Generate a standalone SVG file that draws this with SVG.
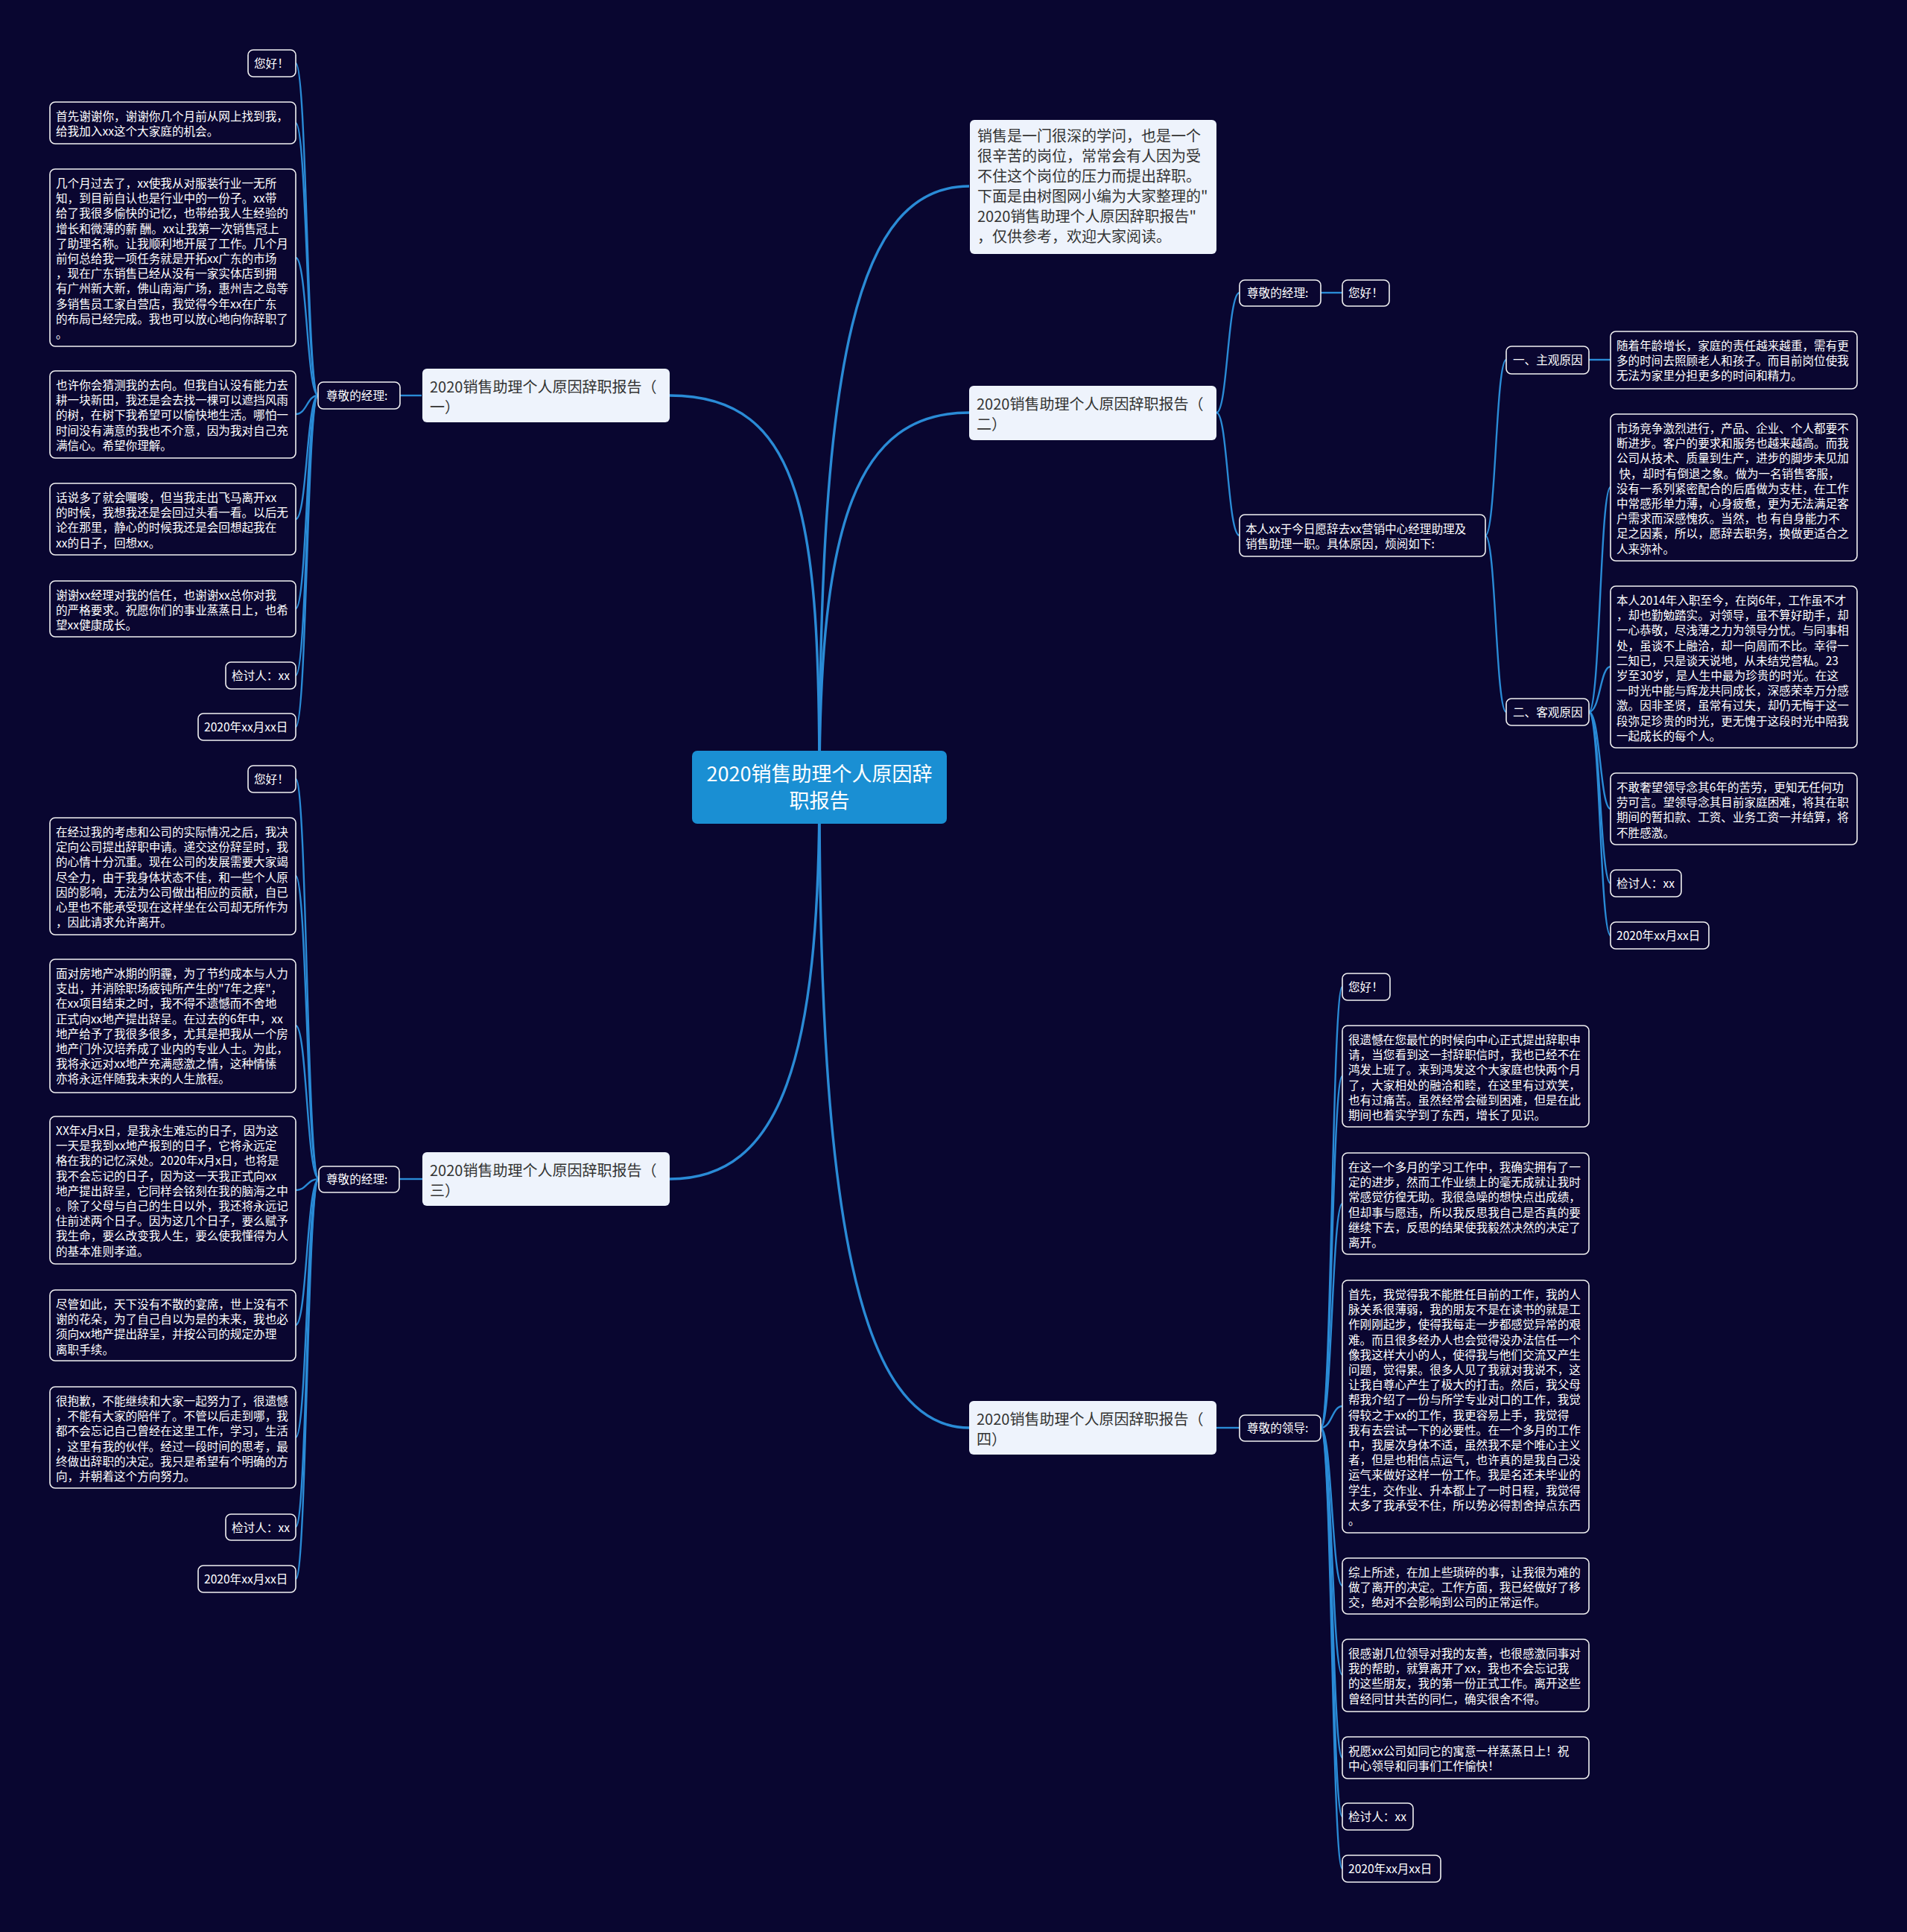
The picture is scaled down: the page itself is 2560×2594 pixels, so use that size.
<svg xmlns="http://www.w3.org/2000/svg" width="2560" height="2594" viewBox="0 0 2560 2594">
<style>
text{font-family:"Noto Sans CJK SC","Noto Sans",sans-serif;}
.leaf rect{fill:#0a0630;stroke:#f2f2f2;stroke-width:1.6;}
.leaf text{fill:#ffffff;font-size:15.6px;}
.branch rect{fill:#eef3fc;}
.branch text{fill:#333333;font-size:20px;}
.center rect{fill:#1a8fd3;}
.center text{fill:#ffffff;font-size:27px;text-anchor:middle;}
.conn path{fill:none;stroke:#2a8bd6;stroke-width:2.4;}
.conn path.main{stroke-width:3.4;}
</style>
<rect width="2560" height="2594" fill="#090630"/>
<g id="connectors" class="conn">
<path class="main" d="M1100,1057 C1100,700 1080,531 899,531"/>
<path class="main" d="M1100,1057 C1100,480 1150,250 1301,250"/>
<path class="main" d="M1100,1057 C1100,700 1150,554 1301,554"/>
<path class="main" d="M1100,1057 C1100,1420 1050,1583 899,1583"/>
<path class="main" d="M1100,1057 C1100,1620 1150,1917 1301,1917"/>
<path d="M566,531 L537,531"/>
<path d="M567,1583 L536,1583"/>
<path d="M1633,554 C1648,554 1648,393 1664,393"/>
<path d="M1633,554 C1648,554 1648,719 1664,719"/>
<path d="M1633,1917 L1664,1917"/>
<path d="M1773,393 L1802,393"/>
<path d="M1994,719 C2008,719 2008,483 2022,483"/>
<path d="M1994,719 C2008,719 2008,956 2022,956"/>
<path d="M2133,483 L2162,483"/>
<path d="M2133,956 C2148,956 2148,654 2162,654"/>
<path d="M2133,956 C2148,956 2148,895 2162,895"/>
<path d="M2133,956 C2148,956 2148,1086 2162,1086"/>
<path d="M2133,956 C2148,956 2148,1186 2162,1186"/>
<path d="M2133,956 C2148,956 2148,1256 2162,1256"/>
<path d="M427,531 C412,531 412,85 397,85"/>
<path d="M427,531 C412,531 412,165 397,165"/>
<path d="M427,531 C412,531 412,346 397,346"/>
<path d="M427,531 C412,531 412,556 397,556"/>
<path d="M427,531 C412,531 412,697 397,697"/>
<path d="M427,531 C412,531 412,817 397,817"/>
<path d="M427,531 C412,531 412,907 397,907"/>
<path d="M427,531 C412,531 412,976 397,976"/>
<path d="M428,1583 C412,1583 412,1046 397,1046"/>
<path d="M428,1583 C412,1583 412,1176 397,1176"/>
<path d="M428,1583 C412,1583 412,1377 397,1377"/>
<path d="M428,1583 C412,1583 412,1598 397,1598"/>
<path d="M428,1583 C412,1583 412,1779 397,1779"/>
<path d="M428,1583 C412,1583 412,1930 397,1930"/>
<path d="M428,1583 C412,1583 412,2050 397,2050"/>
<path d="M428,1583 C412,1583 412,2120 397,2120"/>
<path d="M1773,1917 C1788,1917 1788,1325 1802,1325"/>
<path d="M1773,1917 C1788,1917 1788,1445 1802,1445"/>
<path d="M1773,1917 C1788,1917 1788,1616 1802,1616"/>
<path d="M1773,1917 C1788,1917 1788,1888 1802,1888"/>
<path d="M1773,1917 C1788,1917 1788,2129 1802,2129"/>
<path d="M1773,1917 C1788,1917 1788,2249 1802,2249"/>
<path d="M1773,1917 C1788,1917 1788,2360 1802,2360"/>
<path d="M1773,1917 C1788,1917 1788,2439 1802,2439"/>
<path d="M1773,1917 C1788,1917 1788,2509 1802,2509"/>
</g>

<g id="center" class="center">
<rect x="929" y="1008" width="342" height="98" rx="7"/>
<text x="1100" y="1049">2020销售助理个人原因辞<tspan x="1100" dy="36">职报告</tspan></text>
</g>

<g id="intro" class="branch">
<rect x="1302" y="161" width="331" height="180" rx="6"/>
<text x="1312" y="190">销售是一门很深的学问，也是一个<tspan x="1312" dy="27">很辛苦的岗位，常常会有人因为受</tspan><tspan x="1312" dy="27">不住这个岗位的压力而提出辞职。</tspan><tspan x="1312" dy="27">下面是由树图网小编为大家整理的"</tspan><tspan x="1312" dy="27">2020销售助理个人原因辞职报告"</tspan><tspan x="1312" dy="27">，仅供参考，欢迎大家阅读。</tspan></text>
</g>

<g id="branch1" class="branch">
<rect x="567" y="495" width="332" height="72" rx="6"/>
<text x="577" y="527">2020销售助理个人原因辞职报告（<tspan x="577" dy="27">一）</tspan></text>
</g>
<g id="branch2" class="branch">
<rect x="1301" y="518" width="332" height="73" rx="6"/>
<text x="1311" y="550">2020销售助理个人原因辞职报告（<tspan x="1311" dy="27">二）</tspan></text>
</g>
<g id="branch3" class="branch">
<rect x="567" y="1547" width="332" height="72" rx="6"/>
<text x="577" y="1579">2020销售助理个人原因辞职报告（<tspan x="577" dy="27">三）</tspan></text>
</g>
<g id="branch4" class="branch">
<rect x="1301" y="1881" width="332" height="72" rx="6"/>
<text x="1311" y="1913">2020销售助理个人原因辞职报告（<tspan x="1311" dy="27">四）</tspan></text>
</g>

<!-- Branch 1 -->
<g id="b1-label" class="leaf"><rect x="427" y="513" width="110" height="36" rx="7"/><text x="438" y="537">尊敬的经理:</text></g>
<g id="b1-1" class="leaf"><rect x="333" y="67" width="64" height="36" rx="7"/><text x="341" y="91">您好！</text></g>
<g id="b1-2" class="leaf"><rect x="67" y="137" width="330" height="56" rx="7"/><text x="75" y="162">首先谢谢你，谢谢你几个月前从网上找到我，<tspan x="75" dy="20.2">给我加入xx这个大家庭的机会。</tspan></text></g>
<g id="b1-3" class="leaf"><rect x="67" y="227" width="330" height="238" rx="7"/><text x="75" y="252">几个月过去了，xx使我从对服装行业一无所<tspan x="75" dy="20.2">知，到目前自认也是行业中的一份子。xx带</tspan><tspan x="75" dy="20.2">给了我很多愉快的记忆，也带给我人生经验的</tspan><tspan x="75" dy="20.2">增长和微薄的薪 酬。xx让我第一次销售冠上</tspan><tspan x="75" dy="20.2">了助理名称。让我顺利地开展了工作。几个月</tspan><tspan x="75" dy="20.2">前何总给我一项任务就是开拓xx广东的市场</tspan><tspan x="75" dy="20.2">，现在广东销售已经从没有一家实体店到拥</tspan><tspan x="75" dy="20.2">有广州新大新，佛山南海广场，惠州吉之岛等</tspan><tspan x="75" dy="20.2">多销售员工家自营店，我觉得今年xx在广东</tspan><tspan x="75" dy="20.2">的布局已经完成。我也可以放心地向你辞职了</tspan><tspan x="75" dy="20.2">。</tspan></text></g>
<g id="b1-4" class="leaf"><rect x="67" y="498" width="330" height="117" rx="7"/><text x="75" y="523">也许你会猜测我的去向。但我自认没有能力去<tspan x="75" dy="20.2">耕一块新田，我还是会去找一棵可以遮挡风雨</tspan><tspan x="75" dy="20.2">的树，在树下我希望可以愉快地生活。哪怕一</tspan><tspan x="75" dy="20.2">时间没有满意的我也不介意，因为我对自己充</tspan><tspan x="75" dy="20.2">满信心。希望你理解。</tspan></text></g>
<g id="b1-5" class="leaf"><rect x="67" y="649" width="330" height="96" rx="7"/><text x="75" y="674">话说多了就会囉唆，但当我走出飞马离开xx<tspan x="75" dy="20.2">的时候，我想我还是会回过头看一看。以后无</tspan><tspan x="75" dy="20.2">论在那里，静心的时候我还是会回想起我在</tspan><tspan x="75" dy="20.2">xx的日子，回想xx。</tspan></text></g>
<g id="b1-6" class="leaf"><rect x="67" y="780" width="330" height="75" rx="7"/><text x="75" y="805">谢谢xx经理对我的信任，也谢谢xx总你对我<tspan x="75" dy="20.2">的严格要求。祝愿你们的事业蒸蒸日上，也希</tspan><tspan x="75" dy="20.2">望xx健康成长。</tspan></text></g>
<g id="b1-7" class="leaf"><rect x="303" y="889" width="94" height="36" rx="7"/><text x="311" y="913">检讨人：xx</text></g>
<g id="b1-8" class="leaf"><rect x="266" y="958" width="131" height="36" rx="7"/><text x="274" y="982">2020年xx月xx日</text></g>

<!-- Branch 3 -->
<g id="b3-label" class="leaf"><rect x="428" y="1566" width="108" height="35" rx="7"/><text x="438" y="1589">尊敬的经理:</text></g>
<g id="b3-1" class="leaf"><rect x="333" y="1028" width="64" height="36" rx="7"/><text x="341" y="1052">您好！</text></g>
<g id="b3-2" class="leaf"><rect x="67" y="1098" width="330" height="157" rx="7"/><text x="75" y="1123">在经过我的考虑和公司的实际情况之后，我决<tspan x="75" dy="20.2">定向公司提出辞职申请。递交这份辞呈时，我</tspan><tspan x="75" dy="20.2">的心情十分沉重。现在公司的发展需要大家竭</tspan><tspan x="75" dy="20.2">尽全力，由于我身体状态不佳，和一些个人原</tspan><tspan x="75" dy="20.2">因的影响，无法为公司做出相应的贡献，自已</tspan><tspan x="75" dy="20.2">心里也不能承受现在这样坐在公司却无所作为</tspan><tspan x="75" dy="20.2">，因此请求允许离开。</tspan></text></g>
<g id="b3-3" class="leaf"><rect x="67" y="1288" width="330" height="179" rx="7"/><text x="75" y="1313">面对房地产冰期的阴霾，为了节约成本与人力<tspan x="75" dy="20.2">支出，并消除职场疲钝所产生的"7年之痒"，</tspan><tspan x="75" dy="20.2">在xx项目结束之时，我不得不遗憾而不舍地</tspan><tspan x="75" dy="20.2">正式向xx地产提出辞呈。在过去的6年中，xx</tspan><tspan x="75" dy="20.2">地产给予了我很多很多，尤其是把我从一个房</tspan><tspan x="75" dy="20.2">地产门外汉培养成了业内的专业人士。为此，</tspan><tspan x="75" dy="20.2">我将永远对xx地产充满感激之情，这种情愫</tspan><tspan x="75" dy="20.2">亦将永远伴随我未来的人生旅程。</tspan></text></g>
<g id="b3-4" class="leaf"><rect x="67" y="1499" width="330" height="198" rx="7"/><text x="75" y="1524">XX年x月x日，是我永生难忘的日子，因为这<tspan x="75" dy="20.2">一天是我到xx地产报到的日子，它将永远定</tspan><tspan x="75" dy="20.2">格在我的记忆深处。2020年x月x日，也将是</tspan><tspan x="75" dy="20.2">我不会忘记的日子，因为这一天我正式向xx</tspan><tspan x="75" dy="20.2">地产提出辞呈，它同样会铭刻在我的脑海之中</tspan><tspan x="75" dy="20.2">。除了父母与自己的生日以外，我还将永远记</tspan><tspan x="75" dy="20.2">住前述两个日子。因为这几个日子，要么赋予</tspan><tspan x="75" dy="20.2">我生命，要么改变我人生，要么使我懂得为人</tspan><tspan x="75" dy="20.2">的基本准则孝道。</tspan></text></g>
<g id="b3-5" class="leaf"><rect x="67" y="1732" width="330" height="95" rx="7"/><text x="75" y="1757">尽管如此，天下没有不散的宴席，世上没有不<tspan x="75" dy="20.2">谢的花朵，为了自己自以为是的未来，我也必</tspan><tspan x="75" dy="20.2">须向xx地产提出辞呈，并按公司的规定办理</tspan><tspan x="75" dy="20.2">离职手续。</tspan></text></g>
<g id="b3-6" class="leaf"><rect x="67" y="1862" width="330" height="136" rx="7"/><text x="75" y="1887">很抱歉，不能继续和大家一起努力了，很遗憾<tspan x="75" dy="20.2">，不能有大家的陪伴了。不管以后走到哪，我</tspan><tspan x="75" dy="20.2">都不会忘记自己曾经在这里工作，学习，生活</tspan><tspan x="75" dy="20.2">，这里有我的伙伴。经过一段时间的思考，最</tspan><tspan x="75" dy="20.2">终做出辞职的决定。我只是希望有个明确的方</tspan><tspan x="75" dy="20.2">向，并朝着这个方向努力。</tspan></text></g>
<g id="b3-7" class="leaf"><rect x="303" y="2033" width="94" height="35" rx="7"/><text x="311" y="2057">检讨人：xx</text></g>
<g id="b3-8" class="leaf"><rect x="266" y="2102" width="131" height="36" rx="7"/><text x="274" y="2126">2020年xx月xx日</text></g>

<!-- Branch 2 -->
<g id="b2-label" class="leaf"><rect x="1664" y="376" width="109" height="35" rx="7"/><text x="1674" y="399">尊敬的经理:</text></g>
<g id="b2-hello" class="leaf"><rect x="1802" y="376" width="63" height="35" rx="7"/><text x="1810" y="399">您好！</text></g>
<g id="b2-intro" class="leaf"><rect x="1664" y="691" width="330" height="56" rx="7"/><text x="1672" y="716">本人xx于今日愿辞去xx营销中心经理助理及<tspan x="1672" dy="20.2">销售助理一职。具体原因，烦阅如下:</tspan></text></g>
<g id="b2-r1" class="leaf"><rect x="2022" y="465" width="111" height="37" rx="7"/><text x="2031" y="489">一、主观原因</text></g>
<g id="b2-r1a" class="leaf"><rect x="2162" y="445" width="331" height="77" rx="7"/><text x="2170" y="470">随着年龄增长，家庭的责任越来越重，需有更<tspan x="2170" dy="20.2">多的时间去照顾老人和孩子。而目前岗位使我</tspan><tspan x="2170" dy="20.2">无法为家里分担更多的时间和精力。</tspan></text></g>
<g id="b2-r2" class="leaf"><rect x="2022" y="938" width="111" height="36" rx="7"/><text x="2031" y="962">二、客观原因</text></g>
<g id="b2-r2a" class="leaf"><rect x="2162" y="556" width="331" height="197" rx="7"/><text x="2170" y="581">市场竞争激烈进行，产品、企业、个人都要不<tspan x="2170" dy="20.2">断进步。客户的要求和服务也越来越高。而我</tspan><tspan x="2170" dy="20.2">公司从技术、质量到生产，进步的脚步未见加</tspan><tspan x="2170" dy="20.2"> 快，却时有倒退之象。做为一名销售客服，</tspan><tspan x="2170" dy="20.2">没有一系列紧密配合的后盾做为支柱，在工作</tspan><tspan x="2170" dy="20.2">中常感形单力薄，心身疲惫，更为无法满足客</tspan><tspan x="2170" dy="20.2">户需求而深感愧疚。当然，也 有自身能力不</tspan><tspan x="2170" dy="20.2">足之因素，所以，愿辞去职务，换做更适合之</tspan><tspan x="2170" dy="20.2">人来弥补。</tspan></text></g>
<g id="b2-r2b" class="leaf"><rect x="2162" y="787" width="331" height="217" rx="7"/><text x="2170" y="812">本人2014年入职至今，在岗6年，工作虽不才<tspan x="2170" dy="20.2">，却也勤勉踏实。对领导，虽不算好助手，却</tspan><tspan x="2170" dy="20.2">一心恭敬，尽浅薄之力为领导分忧。与同事相</tspan><tspan x="2170" dy="20.2">处，虽谈不上融洽，却一向周而不比。幸得一</tspan><tspan x="2170" dy="20.2">二知已，只是谈天说地，从未结党营私。23</tspan><tspan x="2170" dy="20.2">岁至30岁，是人生中最为珍贵的时光。在这</tspan><tspan x="2170" dy="20.2">一时光中能与辉龙共同成长，深感荣幸万分感</tspan><tspan x="2170" dy="20.2">激。因非圣贤，虽常有过失，却仍无悔于这一</tspan><tspan x="2170" dy="20.2">段弥足珍贵的时光，更无愧于这段时光中陪我</tspan><tspan x="2170" dy="20.2">一起成长的每个人。</tspan></text></g>
<g id="b2-r2c" class="leaf"><rect x="2162" y="1038" width="331" height="96" rx="7"/><text x="2170" y="1063">不敢奢望领导念其6年的苦劳，更知无任何功<tspan x="2170" dy="20.2">劳可言。望领导念其目前家庭困难，将其在职</tspan><tspan x="2170" dy="20.2">期间的暂扣款、工资、业务工资一并结算，将</tspan><tspan x="2170" dy="20.2">不胜感激。</tspan></text></g>
<g id="b2-r2d" class="leaf"><rect x="2162" y="1168" width="95" height="36" rx="7"/><text x="2170" y="1192">检讨人：xx</text></g>
<g id="b2-r2e" class="leaf"><rect x="2162" y="1238" width="132" height="36" rx="7"/><text x="2170" y="1262">2020年xx月xx日</text></g>

<!-- Branch 4 -->
<g id="b4-label" class="leaf"><rect x="1664" y="1900" width="109" height="35" rx="7"/><text x="1674" y="1923">尊敬的领导:</text></g>
<g id="b4-1" class="leaf"><rect x="1802" y="1307" width="64" height="36" rx="7"/><text x="1810" y="1331">您好！</text></g>
<g id="b4-2" class="leaf"><rect x="1802" y="1377" width="331" height="136" rx="7"/><text x="1810" y="1402">很遗憾在您最忙的时候向中心正式提出辞职申<tspan x="1810" dy="20.2">请，当您看到这一封辞职信时，我也已经不在</tspan><tspan x="1810" dy="20.2">鸿发上班了。来到鸿发这个大家庭也快两个月</tspan><tspan x="1810" dy="20.2">了，大家相处的融洽和睦，在这里有过欢笑，</tspan><tspan x="1810" dy="20.2">也有过痛苦。虽然经常会碰到困难，但是在此</tspan><tspan x="1810" dy="20.2">期间也着实学到了东西，增长了见识。</tspan></text></g>
<g id="b4-3" class="leaf"><rect x="1802" y="1548" width="331" height="136" rx="7"/><text x="1810" y="1573">在这一个多月的学习工作中，我确实拥有了一<tspan x="1810" dy="20.2">定的进步，然而工作业绩上的毫无成就让我时</tspan><tspan x="1810" dy="20.2">常感觉彷徨无助。我很急噪的想快点出成绩，</tspan><tspan x="1810" dy="20.2">但却事与愿违，所以我反思我自己是否真的要</tspan><tspan x="1810" dy="20.2">继续下去，反思的结果使我毅然决然的决定了</tspan><tspan x="1810" dy="20.2">离开。</tspan></text></g>
<g id="b4-4" class="leaf"><rect x="1802" y="1719" width="331" height="339" rx="7"/><text x="1810" y="1744">首先，我觉得我不能胜任目前的工作，我的人<tspan x="1810" dy="20.2">脉关系很薄弱，我的朋友不是在读书的就是工</tspan><tspan x="1810" dy="20.2">作刚刚起步，使得我每走一步都感觉异常的艰</tspan><tspan x="1810" dy="20.2">难。而且很多经办人也会觉得没办法信任一个</tspan><tspan x="1810" dy="20.2">像我这样大小的人，使得我与他们交流又产生</tspan><tspan x="1810" dy="20.2">问题，觉得累。很多人见了我就对我说不，这</tspan><tspan x="1810" dy="20.2">让我自尊心产生了极大的打击。然后，我父母</tspan><tspan x="1810" dy="20.2">帮我介绍了一份与所学专业对口的工作，我觉</tspan><tspan x="1810" dy="20.2">得较之于xx的工作，我更容易上手，我觉得</tspan><tspan x="1810" dy="20.2">我有去尝试一下的必要性。在一个多月的工作</tspan><tspan x="1810" dy="20.2">中，我屡次身体不适，虽然我不是个唯心主义</tspan><tspan x="1810" dy="20.2">者，但是也相信点运气，也许真的是我自己没</tspan><tspan x="1810" dy="20.2">运气来做好这样一份工作。我是名还未毕业的</tspan><tspan x="1810" dy="20.2">学生，交作业、升本都上了一时日程，我觉得</tspan><tspan x="1810" dy="20.2">太多了我承受不住，所以势必得割舍掉点东西</tspan><tspan x="1810" dy="20.2">。</tspan></text></g>
<g id="b4-5" class="leaf"><rect x="1802" y="2092" width="331" height="75" rx="7"/><text x="1810" y="2117">综上所述，在加上些琐碎的事，让我很为难的<tspan x="1810" dy="20.2">做了离开的决定。工作方面，我已经做好了移</tspan><tspan x="1810" dy="20.2">交，绝对不会影响到公司的正常运作。</tspan></text></g>
<g id="b4-6" class="leaf"><rect x="1802" y="2201" width="331" height="97" rx="7"/><text x="1810" y="2226">很感谢几位领导对我的友善，也很感激同事对<tspan x="1810" dy="20.2">我的帮助，就算离开了xx，我也不会忘记我</tspan><tspan x="1810" dy="20.2">的这些朋友，我的第一份正式工作。离开这些</tspan><tspan x="1810" dy="20.2">曾经同甘共苦的同仁，确实很舍不得。</tspan></text></g>
<g id="b4-7" class="leaf"><rect x="1802" y="2332" width="331" height="56" rx="7"/><text x="1810" y="2357">祝愿xx公司如同它的寓意一样蒸蒸日上！祝<tspan x="1810" dy="20.2">中心领导和同事们工作愉快！</tspan></text></g>
<g id="b4-8" class="leaf"><rect x="1802" y="2421" width="95" height="36" rx="7"/><text x="1810" y="2445">检讨人：xx</text></g>
<g id="b4-9" class="leaf"><rect x="1802" y="2491" width="132" height="36" rx="7"/><text x="1810" y="2515">2020年xx月xx日</text></g>
</svg>
